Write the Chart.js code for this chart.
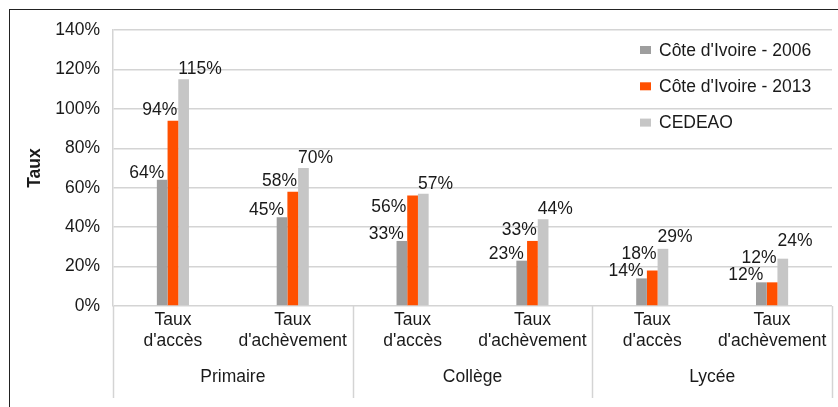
<!DOCTYPE html>
<html>
<head>
<meta charset="utf-8">
<script src="https://cdn.jsdelivr.net/npm/chart.js@4"></script>
<style>
  html, body { margin: 0; padding: 0; background: #fff; }
  #wrap { position: relative; width: 838px; height: 407px; overflow: hidden; }
  #cadre { position: absolute; left: 9px; top: 9px; width: 900px; height: 500px; border: 1.5px solid #222; }
  #graf { position: absolute; left: 0; top: 0; }
</style>
</head>
<body>
<div id="wrap">
  <div id="cadre"></div>
  <canvas id="graf" width="838" height="407"></canvas>
</div>
<script>
const categorias = [["Taux", "d'accès"], ["Taux", "d'achèvement"], ["Taux", "d'accès"], ["Taux", "d'achèvement"], ["Taux", "d'accès"], ["Taux", "d'achèvement"]];
const niveles = ["Primaire", "Collège", "Lycée"];
const ci2006 = [64, 45, 33, 23, 14, 12];
const ci2013 = [94, 58, 56, 33, 18, 12];
const cedeao = [115, 70, 57, 44, 29, 24];
const series = ["Côte d'Ivoire - 2006", "Côte d'Ivoire - 2013", "CEDEAO"];
const colores = ["#9e9e9e", "#ff5000", "#c6c6c6"];

const fuente = "'Liberation Sans', Arial, Helvetica, sans-serif";
const tam = 17.5;
const gris = "#d4d4d4";
const texto = "#1a1a1a";

// etiquetas de datos, al estilo Excel (se apartan si se pisan)
const etiquetas = {
  id: "etiquetas",
  afterDatasetsDraw(chart) {
    const ctx = chart.ctx;
    const m0 = chart.getDatasetMeta(0).data;
    const m1 = chart.getDatasetMeta(1).data;
    const m2 = chart.getDatasetMeta(2).data;
    ctx.save();
    ctx.font = tam + "px " + fuente;
    ctx.fillStyle = texto;
    ctx.textBaseline = "alphabetic";
    for (let j = 0; j < m0.length; j++) {
      const a = m0[j], b = m1[j], c = m2[j];
      // serie 2006
      const y0 = a.y - 2;
      ctx.textAlign = "right";
      ctx.fillText(chart.data.datasets[0].data[j] + "%", a.x + 2, y0);
      // serie 2013
      let y1, x1;
      if (Math.abs(b.y - c.y) < 10) {
        x1 = b.x - b.width / 2 - 1;
        y1 = b.y + 16;
      } else {
        x1 = b.x + b.width / 2 - 1;
        y1 = Math.min(b.y - 6, y0 - 17);
      }
      ctx.fillText(chart.data.datasets[1].data[j] + "%", x1, y1);
      // CEDEAO
      const y2 = Math.min(c.y - 5, y1 - 17);
      ctx.textAlign = "left";
      ctx.fillText(chart.data.datasets[2].data[j] + "%", c.x - c.width / 2, y2);
    }
    ctx.restore();
  }
};

// leyenda dentro del área del gráfico
const leyenda = {
  id: "leyenda",
  afterDraw(chart) {
    const ctx = chart.ctx;
    const area = chart.chartArea;
    ctx.save();
    ctx.font = tam + "px " + fuente;
    ctx.textBaseline = "middle";
    ctx.textAlign = "left";
    chart.data.datasets.forEach((ds, i) => {
      const y = area.top + 20 + i * 36.3;
      const x = area.right - 192;
      ctx.fillStyle = ds.backgroundColor;
      ctx.fillRect(x, y - 4, 11, 8);
      ctx.fillStyle = texto;
      ctx.fillText(ds.label, x + 19, y + 1);
    });
    ctx.restore();
  }
};

// separadores de los niveles
const separadores = {
  id: "separadores",
  afterDraw(chart) {
    const x = chart.scales.x;
    const x2 = chart.scales.x2;
    const ctx = chart.ctx;
    ctx.save();
    ctx.strokeStyle = gris;
    ctx.lineWidth = 1.5;
    [-0.5, 1.5, 3.5, 5.5].forEach(v => {
      const px = Math.round(x.getPixelForValue(v)) + 0.5;
      ctx.beginPath();
      ctx.moveTo(px, x.top);
      ctx.lineTo(px, x2.bottom);
      ctx.stroke();
    });
    ctx.restore();
  }
};

new Chart(document.getElementById("graf"), {
  type: "bar",
  data: {
    labels: categorias,
    datasets: [
      { label: series[0], data: ci2006, backgroundColor: colores[0] },
      { label: series[1], data: ci2013, backgroundColor: colores[1] },
      { label: series[2], data: cedeao, backgroundColor: colores[2] }
    ]
  },
  options: {
    responsive: false,
    animation: false,
    layout: { padding: { left: 10, top: 30, right: 6, bottom: 9 } },
    datasets: { bar: { categoryPercentage: 0.268, barPercentage: 1, borderWidth: 0 } },
    plugins: {
      legend: { display: false },
      tooltip: { enabled: false }
    },
    scales: {
      y: {
        min: 0,
        max: 140,
        ticks: {
          stepSize: 20,
          padding: 13,
          color: texto,
          font: { family: fuente, size: tam },
          callback: v => v + "%"
        },
        grid: { color: gris, lineWidth: 1.5, drawTicks: false },
        border: { color: gris, width: 1.5 },
        title: {
          display: true,
          text: "Taux",
          color: texto,
          font: { family: fuente, size: tam, weight: "bold" },
          padding: { top: 15, bottom: 0 }
        },
        afterFit(s) { s.width = 103; }
      },
      x: {
        weight: 1,
        offset: true,
        grid: { display: false, drawTicks: false },
        border: { display: false },
        ticks: {
          padding: 4,
          maxRotation: 0,
          autoSkip: false,
          color: texto,
          font: { family: fuente, size: tam }
        },
        afterFit(s) { s.height = 52; }
      },
      x2: {
        type: "category",
        position: "bottom",
        weight: 2,
        labels: niveles,
        offset: true,
        grid: { display: false, drawTicks: false },
        border: { display: false },
        ticks: {
          padding: 9,
          maxRotation: 0,
          autoSkip: false,
          color: texto,
          font: { family: fuente, size: tam }
        },
        afterFit(s) { s.height = 40; }
      }
    }
  },
  plugins: [etiquetas, leyenda, separadores]
});
</script>
</body>
</html>
